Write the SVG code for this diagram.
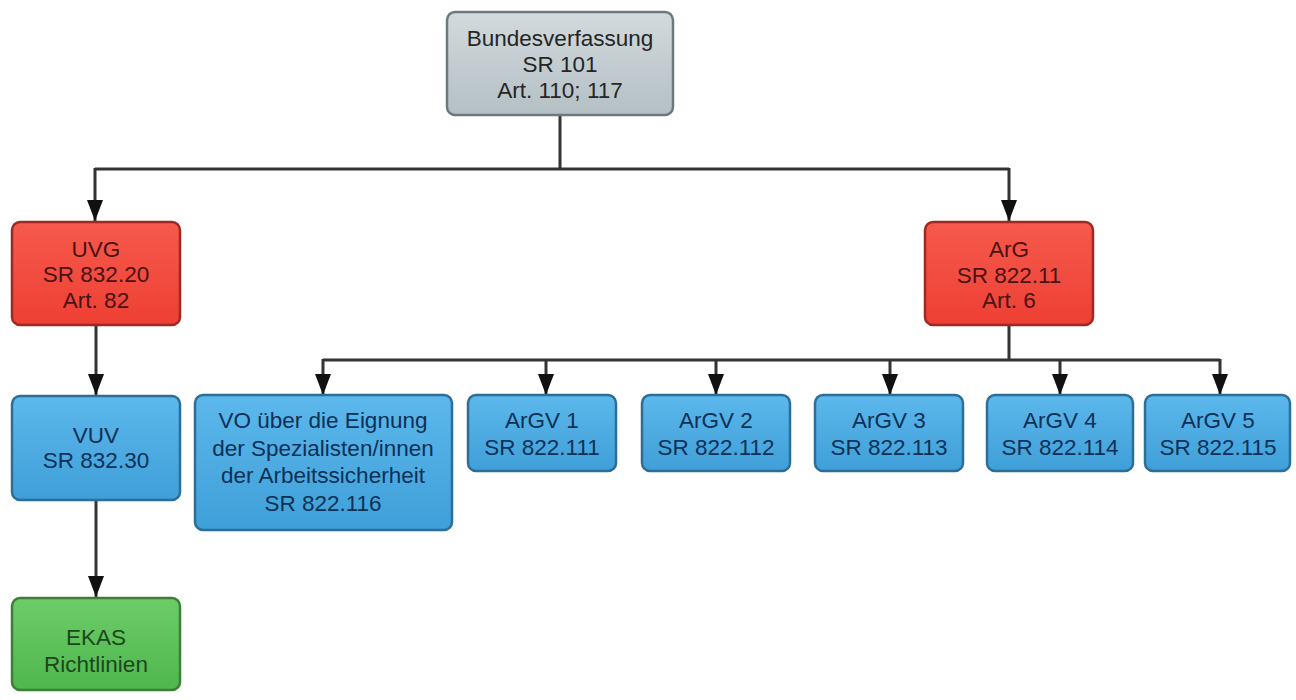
<svg xmlns="http://www.w3.org/2000/svg" width="1296" height="700" viewBox="0 0 1296 700">
<defs>
<linearGradient id="gGray" x1="0" y1="0" x2="0" y2="1"><stop offset="0" stop-color="#d2dadd"/><stop offset="1" stop-color="#b4c0c4"/></linearGradient>
<linearGradient id="gRed" x1="0" y1="0" x2="0" y2="1"><stop offset="0" stop-color="#f65a4c"/><stop offset="1" stop-color="#ee3f34"/></linearGradient>
<linearGradient id="gBlue" x1="0" y1="0" x2="0" y2="1"><stop offset="0" stop-color="#5cb8ec"/><stop offset="1" stop-color="#3f9fd8"/></linearGradient>
<linearGradient id="gGreen" x1="0" y1="0" x2="0" y2="1"><stop offset="0" stop-color="#6ccd68"/><stop offset="1" stop-color="#4fb64d"/></linearGradient>
<marker id="arr" markerUnits="userSpaceOnUse" markerWidth="22" markerHeight="18" refX="21" refY="9" orient="auto" viewBox="0 0 22 18">
<path d="M0,1 L21,9 L0,17 Z" fill="#111"/>
</marker>
</defs>
<style>
.box{stroke-width:2.5}
.gray{fill:url(#gGray);stroke:#6f787c}
.red{fill:url(#gRed);stroke:#9c2a22}
.blue{fill:url(#gBlue);stroke:#2d6e96}
.green{fill:url(#gGreen);stroke:#3d7f3a}
text{font-family:"Liberation Sans",Arial,sans-serif;font-size:22.5px;text-anchor:middle}
.tg{fill:#252525}
.tr{fill:#4a1212}
.tb{fill:#0d3156}
.tgr{fill:#1d461d}
.c{fill:none;stroke:#333;stroke-width:3}
.ca{fill:none;stroke:#333;stroke-width:3;marker-end:url(#arr)}
</style>
<g id="connectors">
<path class="c" d="M560,115 V169 M95,169 H1009"/>
<path class="ca" d="M95,168 V221"/>
<path class="ca" d="M1009,168 V221"/>
<path class="ca" d="M96,325 V395"/>
<path class="ca" d="M96,500 V597"/>
<path class="c" d="M1009,325 V360 M323,360 H1220"/>
<path class="ca" d="M323,359 V395"/>
<path class="ca" d="M546,359 V395"/>
<path class="ca" d="M716,359 V395"/>
<path class="ca" d="M890,359 V395"/>
<path class="ca" d="M1060,359 V395"/>
<path class="ca" d="M1220,359 V395"/>
</g>
<g id="bundesverfassung">
<rect class="box gray" x="447" y="12" width="226" height="103" rx="8"/>
<text class="tg" x="560" y="46">Bundesverfassung</text>
<text class="tg" x="560" y="72">SR 101</text>
<text class="tg" x="560" y="98">Art. 110; 117</text>
</g>
<g id="uvg">
<rect class="box red" x="12" y="222" width="168" height="103" rx="8"/>
<text class="tr" x="96" y="257">UVG</text>
<text class="tr" x="96" y="282">SR 832.20</text>
<text class="tr" x="96" y="308">Art. 82</text>
</g>
<g id="arg">
<rect class="box red" x="925" y="222" width="168" height="103" rx="8"/>
<text class="tr" x="1009" y="257">ArG</text>
<text class="tr" x="1009" y="283">SR 822.11</text>
<text class="tr" x="1009" y="308">Art. 6</text>
</g>
<g id="vuv">
<rect class="box blue" x="12" y="396" width="168" height="104" rx="8"/>
<text class="tb" x="96" y="443">VUV</text>
<text class="tb" x="96" y="468">SR 832.30</text>
</g>
<g id="ekas">
<rect class="box green" x="12" y="598" width="168" height="92" rx="8"/>
<text class="tgr" x="96" y="645">EKAS</text>
<text class="tgr" x="96" y="672">Richtlinien</text>
</g>
<g id="vo">
<rect class="box blue" x="195" y="395" width="257" height="135" rx="8"/>
<text class="tb" x="323" y="428">VO über die Eignung</text>
<text class="tb" x="323" y="456">der Spezialisten/innen</text>
<text class="tb" x="323" y="483">der Arbeitssicherheit</text>
<text class="tb" x="323" y="511">SR 822.116</text>
</g>
<g id="argv1">
<rect class="box blue" x="468" y="395" width="148" height="76" rx="8"/>
<text class="tb" x="542" y="428">ArGV 1</text>
<text class="tb" x="542" y="455">SR 822.111</text>
</g>
<g id="argv2">
<rect class="box blue" x="642" y="395" width="148" height="76" rx="8"/>
<text class="tb" x="716" y="428">ArGV 2</text>
<text class="tb" x="716" y="455">SR 822.112</text>
</g>
<g id="argv3">
<rect class="box blue" x="815" y="395" width="148" height="76" rx="8"/>
<text class="tb" x="889" y="428">ArGV 3</text>
<text class="tb" x="889" y="455">SR 822.113</text>
</g>
<g id="argv4">
<rect class="box blue" x="987" y="395" width="146" height="76" rx="8"/>
<text class="tb" x="1060" y="428">ArGV 4</text>
<text class="tb" x="1060" y="455">SR 822.114</text>
</g>
<g id="argv5">
<rect class="box blue" x="1145" y="395" width="145" height="76" rx="8"/>
<text class="tb" x="1218" y="428">ArGV 5</text>
<text class="tb" x="1218" y="455">SR 822.115</text>
</g>
</svg>
